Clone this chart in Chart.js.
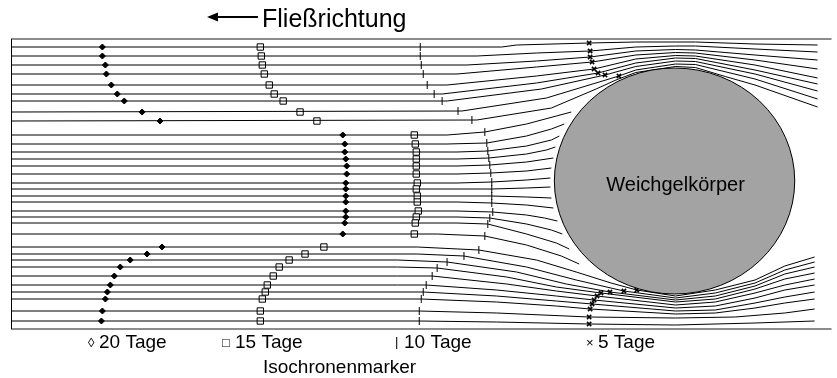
<!DOCTYPE html>
<html>
<head>
<meta charset="utf-8">
<script src="https://cdn.jsdelivr.net/npm/chart.js@4.4.1/dist/chart.umd.min.js"></script>
<style>
  html, body { margin: 0; padding: 0; background: #fff; }
  #wrap { width: 837px; height: 378px; }
</style>
</head>
<body>
<div id="wrap"><canvas id="flow-chart" width="837" height="378"></canvas></div>
<script>
// streamlines passing above the body, [x, y] points
const topLines = [
  [[11,47],[505,47],[520,45],[593,43],[640,42],[700,42],[760,44],[823,45]],
  [[11,56],[480,56],[540,53],[594,51],[640,47],[680,46],[700,46],[760,49],[823,52]],
  [[11,65],[470,65],[540,61],[594,57],[640,51],[680,49.5],[700,50],[760,55],[823,60]],
  [[11,74],[460,74],[540,67],[596,62],[640,55],[680,52.5],[700,53],[760,60],[823,69]],
  [[11,85],[450,85],[540,76],[598,69],[640,59],[680,55.5],[700,56],[760,65],[823,78]],
  [[11,94],[445,94],[540,83],[602,73],[640,63],[680,58],[700,58.5],[760,70],[823,84]],
  [[11,101],[450,101],[545,89],[609,75],[640,66.5],[680,61],[700,61.5],[760,74],[823,91]],
  [[11,112],[465,111],[550,98],[623,76],[640,70],[680,64],[700,64.5],[760,79],[823,99]],
  [[11,121],[480,120],[555,108],[600,89],[620,80],[640,72.5],[680,66.5],[700,67.5],[730,76.5],[760,85],[823,107]]
];

// streamlines ending at the body
const midLines = [
  [[11,135],[450,135],[488,132],[530,124],[560,116],[575,112]],
  [[11,144],[450,144],[490,143],[530,136],[555,129],[568,124]],
  [[11,152],[460,152],[491,151],[530,146],[555,140],[563,136]],
  [[11,159],[460,159],[492,158],[530,154],[550,150],[559,147]],
  [[11,166],[460,166],[493,165],[530,162],[557,158]],
  [[11,174],[460,174],[494,173],[530,171],[555,168]],
  [[11,183],[460,183],[495,182],[530,180],[554,178]],
  [[11,189],[460,189],[495,189],[530,188],[554,187]],
  [[11,196],[460,196],[495,196],[530,197],[555,198]],
  [[11,202],[460,202],[495,203],[530,205],[557,208]],
  [[11,211],[460,211],[496,212],[530,215],[548,218],[561,221]],
  [[11,217],[460,217],[493,218],[530,224],[555,230],[566,234]],
  [[11,223],[460,223],[491,224],[530,234],[560,243],[573,249]],
  [[11,234],[440,234],[488,236],[530,245],[565,256],[583,264]]
];

// streamlines passing below the body
const bottomLines = [
  [[11,247],[420,247],[482,250],[540,260],[580,272],[615,283],[641,290],[680,296],[720,290],[760,280],[790,266],[820,257]],
  [[11,254],[420,254],[467,256],[530,267],[580,280],[628,291],[680,298],[720,293],[760,283],[790,270],[820,262]],
  [[11,260],[400,260],[450,262],[520,272],[570,284],[614,292],[680,300],[720,296],[760,286],[790,274],[820,267]],
  [[11,267],[400,267],[440,268],[510,277],[560,287],[605,293],[680,302],[720,299],[760,289],[790,279],[820,273]],
  [[11,276],[400,276],[435,276],[510,284],[560,291],[601,296],[680,305],[720,302],[760,293],[790,285],[820,279]],
  [[11,285],[400,285],[429,285],[500,290],[560,296],[598,300],[680,308],[720,306],[760,298],[790,290],[820,285]],
  [[11,292],[426,292],[500,296],[560,301],[596,304],[680,311],[720,310],[760,303],[790,297],[820,292]],
  [[11,299],[424,299],[500,302],[560,306],[594,309],[680,314],[720,313],[760,308],[790,303],[820,299]],
  [[11,311],[422,311],[500,313],[593,317],[680,318],[740,317],[790,313],[820,309]],
  [[11,321],[422,321],[500,322],[593,324],[680,325],[760,323],[820,321]]
];

// isochrone markers
const days20 = [[103,47],[103,56],[106,65],[107,74],[112,85],[118,94],[125,101],[143,112],[161,121],
  [345,135],[347,144],[347,152],[348,159],[349,166],[349,174],[348,183],[348,189],[348,196],[348,202],[348,211],[348,217],[347,223],[345,234],
  [163,247],[148,254],[131,260],[121,267],[115,276],[111,285],[108,292],[106,299],[103,311],[102,321]];
const days15 = [[262,47],[263,56],[264,65],[266,74],[271,85],[276,94],[285,101],[302,112],[319,121],
  [417,135],[418,144],[419,152],[419,159],[419,166],[419,174],[420,183],[419,189],[420,196],[420,202],[421,211],[419,217],[418,223],[417,234],
  [326,247],[307,254],[291,260],[281,267],[275,276],[269,285],[267,292],[264,299],[262,311],[262,321]];
const days10 = [[423,47],[423,56],[424,65],[426,74],[430,85],[437,94],[445,101],[461,111],[475,120],
  [488,132],[490,143],[491,151],[492,158],[493,165],[494,173],[495,182],[495,189],[495,196],[495,203],[496,212],[493,218],[491,224],[488,236],
  [482,250],[467,256],[450,262],[440,268],[435,276],[429,285],[426,292],[424,299],[422,311],[422,321]];
const days5 = [[593,43],[594,51],[594,57],[596,62],[598,69],[602,73],[609,75],[623,76],
  [641,290],[628,291],[614,292],[605,293],[601,296],[598,300],[596,304],[594,309],[593,317],[593,324]];

// the soft body (ellipse in data units)
const bodyCenter = [679, 181];
const bodyRadius = [121, 113];
const bodyLabel = "Weichgelkörper";

const flowLabel = "Fließrichtung";
const legendSymbols = ["◊", "□", "|", "×"];
const legendTexts = ["20 Tage", "15 Tage", "10 Tage", "5 Tage"];
const legendTitle = "Isochronenmarker";

const FONT = '"Liberation Sans", Arial, sans-serif';

function toPoints(line) {
  return line.map(p => ({ x: p[0], y: p[1] }));
}

const datasets = [];
[...topLines, ...midLines, ...bottomLines].forEach(line => {
  datasets.push({
    data: toPoints(line),
    showLine: true,
    borderColor: "#000",
    borderWidth: 1,
    pointRadius: 0,
    tension: 0
  });
});
datasets.push({ data: toPoints(days20), pointStyle: "rectRot", pointRadius: 3, backgroundColor: "#000", borderColor: "#000", borderWidth: 1 });
datasets.push({ data: toPoints(days15), pointStyle: "rect", pointRadius: 4.5, backgroundColor: "#fff", borderColor: "#000", borderWidth: 1 });
datasets.push({ data: toPoints(days10), pointStyle: "line", rotation: 90, pointRadius: 4, borderColor: "#000", borderWidth: 1 });
datasets.push({ data: toPoints(days5), pointStyle: "crossRot", pointRadius: 3, borderColor: "#000", borderWidth: 1.5 });

const decorPlugin = {
  id: "decor",
  beforeDatasetsDraw(chart) {
    const { ctx, chartArea } = chart;
    ctx.save();
    // frame
    ctx.strokeStyle = "#8c8c8c";
    ctx.lineWidth = 2;
    ctx.beginPath();
    ctx.moveTo(chartArea.left, chartArea.top);
    ctx.lineTo(chartArea.right, chartArea.top);
    ctx.moveTo(chartArea.left, chartArea.bottom);
    ctx.lineTo(chartArea.right, chartArea.bottom);
    ctx.stroke();
    ctx.strokeStyle = "#000";
    ctx.lineWidth = 1;
    ctx.beginPath();
    ctx.moveTo(chartArea.left + 0.5, chartArea.top);
    ctx.lineTo(chartArea.left + 0.5, chartArea.bottom);
    ctx.stroke();
    ctx.restore();
  },
  afterDatasetsDraw(chart) {
    const { ctx, scales } = chart;
    const x = scales.x, y = scales.y;
    ctx.save();
    // body
    const cx = x.getPixelForValue(bodyCenter[0]);
    const cy = y.getPixelForValue(bodyCenter[1]);
    const rx = Math.abs(x.getPixelForValue(bodyCenter[0] + bodyRadius[0]) - cx);
    const ry = Math.abs(y.getPixelForValue(bodyCenter[1] + bodyRadius[1]) - cy);
    ctx.beginPath();
    ctx.ellipse(cx, cy, rx, ry, 0, 0, Math.PI * 2);
    ctx.fillStyle = "#a3a3a3";
    ctx.fill();
    ctx.strokeStyle = "#000";
    ctx.lineWidth = 1;
    ctx.stroke();
    ctx.fillStyle = "#000";
    ctx.font = "20px " + FONT;
    ctx.textAlign = "center";
    ctx.textBaseline = "middle";
    ctx.fillText(bodyLabel, cx + 1, cy + 4);

    // flow direction arrow and label
    ctx.strokeStyle = "#000";
    ctx.lineWidth = 2;
    ctx.beginPath();
    ctx.moveTo(214, 17);
    ctx.lineTo(258, 17);
    ctx.stroke();
    ctx.beginPath();
    ctx.moveTo(207, 17);
    ctx.lineTo(218, 12.5);
    ctx.lineTo(218, 21.5);
    ctx.closePath();
    ctx.fill();
    ctx.textAlign = "left";
    ctx.textBaseline = "alphabetic";
    ctx.font = "25px " + FONT;
    ctx.fillText(flowLabel, 262, 27);

    // isochrone legend: small symbol, then label
    const symX = [88, 222, 395, 586];
    const txtX = [99, 235, 404, 598];
    legendTexts.forEach((t, i) => {
      ctx.font = "13px " + FONT;
      ctx.fillText(legendSymbols[i], symX[i], i === 2 ? 346 : 347);
      ctx.font = "19px " + FONT;
      ctx.fillText(t, txtX[i], 348);
    });
    ctx.fillText(legendTitle, 263, 373);
    ctx.restore();
  }
};

new Chart(document.getElementById("flow-chart").getContext("2d"), {
  type: "scatter",
  data: { datasets },
  options: {
    responsive: false,
    devicePixelRatio: 1,
    animation: false,
    layout: { padding: { left: 11, right: 0, top: 39, bottom: 49 } },
    scales: {
      x: { type: "linear", min: 11, max: 837, display: false },
      y: { type: "linear", min: 39, max: 329, reverse: true, display: false }
    },
    plugins: {
      legend: { display: false },
      tooltip: { enabled: false }
    }
  },
  plugins: [decorPlugin]
});
</script>
</body>
</html>
